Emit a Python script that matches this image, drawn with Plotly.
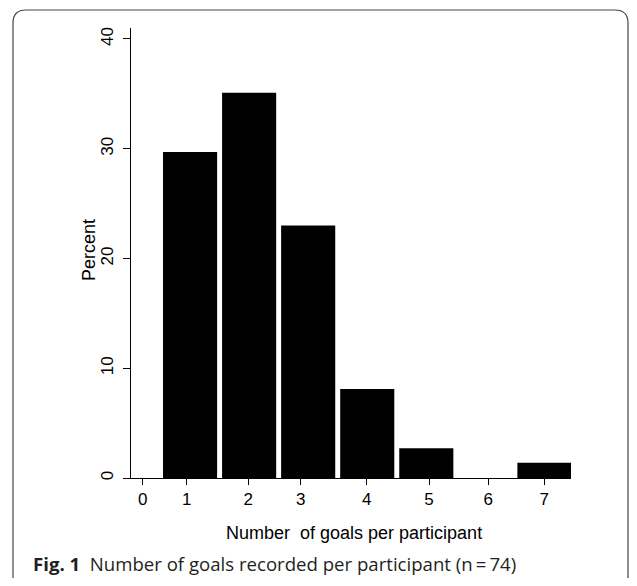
import plotly.graph_objects as go

# Data
goals = [1, 2, 3, 4, 5, 6, 7]
percent = [29.7, 35.1, 23.0, 8.1, 2.7, 0.0, 1.4]
y_ticks = [0, 10, 20, 30, 40]
y_tick_labels = ["0", "10", "20", "30", "40"]
x_tick_pos = [0.198, 0.943, 1.986, 2.873, 3.991, 5.046, 6.05, 6.998]
x_tick_labels = ["", "1", "2", "3", "4", "5", "6", "7"]

# page body has an 8px default margin; work in reference page pixels
OFF = 8
W, H = 637 - 2 * OFF, 586 - 2 * OFF
PLOT_L, PLOT_R, PLOT_T, PLOT_B = 131, 571, 28, 478  # plot area in page pixels
L, R, T = PLOT_L - OFF, W - (PLOT_R - OFF), PLOT_T - OFF
B = H - (PLOT_B - OFF)
PW, PH = W - L - R, H - T - B


def px(x):
    return (x - OFF - L) / PW


def py(y):
    return (H - B - (y - OFF)) / PH


fig = go.Figure()
fig.add_trace(go.Bar(x=goals, y=percent, width=0.916,
                     marker=dict(color="black", line=dict(width=0)),
                     showlegend=False))

axis_font = dict(family="Liberation Sans, Arial, sans-serif", size=17, color="black")

fig.update_layout(
    width=W, height=H,
    margin=dict(l=L, r=R, t=T, b=B, pad=0),
    paper_bgcolor="white", plot_bgcolor="white",
    xaxis=dict(range=[0, 7.45], tickmode="array", tickvals=x_tick_pos,
               ticktext=x_tick_labels, ticks="outside", ticklen=6,
               tickcolor="black", tickwidth=1, showline=True, linecolor="black",
               linewidth=1, showgrid=False, zeroline=False, tickfont=axis_font,
               fixedrange=True),
    yaxis=dict(range=[0, 41.0], tickmode="array", tickvals=y_ticks,
               ticktext=y_tick_labels, tickangle=-90, ticks="outside", ticklen=7,
               tickcolor="black", tickwidth=1, showline=True, linecolor="black",
               linewidth=1, showgrid=False, zeroline=False, tickfont=axis_font,
               ticklabelstandoff=3, fixedrange=True),
)

# x tick label "0" sits slightly lower in the reference
fig.add_annotation(xref="x", yref="paper", x=x_tick_pos[0], y=py(499),
                   text="0", showarrow=False, xanchor="center", yanchor="middle",
                   font=axis_font)

# axis titles
fig.add_annotation(xref="paper", yref="paper", x=px(354), y=py(533),
                   text="Number  of goals per participant", showarrow=False,
                   xanchor="center", yanchor="middle",
                   font=dict(family="Liberation Sans, Arial, sans-serif", size=18, color="black"))
fig.add_annotation(xref="paper", yref="paper", x=px(89), y=py(250),
                   text="Percent", textangle=-90, showarrow=False,
                   xanchor="center", yanchor="middle",
                   font=dict(family="Liberation Sans, Arial, sans-serif", size=18, color="black"))

# caption
fig.add_annotation(xref="paper", yref="paper", x=px(31), y=py(563),
                   text="<b>Fig. 1</b>  Number of goals recorded per participant (n\u2009=\u200974)",
                   showarrow=False, xanchor="left", yanchor="middle",
                   font=dict(family="Open Sans, Noto Sans, sans-serif", size=18.6, color="#231f20"))

# rounded border frame
x0, x1, y0, y1, r = 13, 628, 10, 592, 13
pts = (f"M {px(x0 + r)},{py(y0)} L {px(x1 - r)},{py(y0)} "
       f"Q {px(x1)},{py(y0)} {px(x1)},{py(y0 + r)} "
       f"L {px(x1)},{py(y1 - r)} Q {px(x1)},{py(y1)} {px(x1 - r)},{py(y1)} "
       f"L {px(x0 + r)},{py(y1)} Q {px(x0)},{py(y1)} {px(x0)},{py(y1 - r)} "
       f"L {px(x0)},{py(y0 + r)} Q {px(x0)},{py(y0)} {px(x0 + r)},{py(y0)} Z")
fig.add_shape(type="path", xref="paper", yref="paper", path=pts,
              line=dict(color="#444444", width=1.2), fillcolor="rgba(0,0,0,0)",
              layer="above")

fig.write_html("out.html")
